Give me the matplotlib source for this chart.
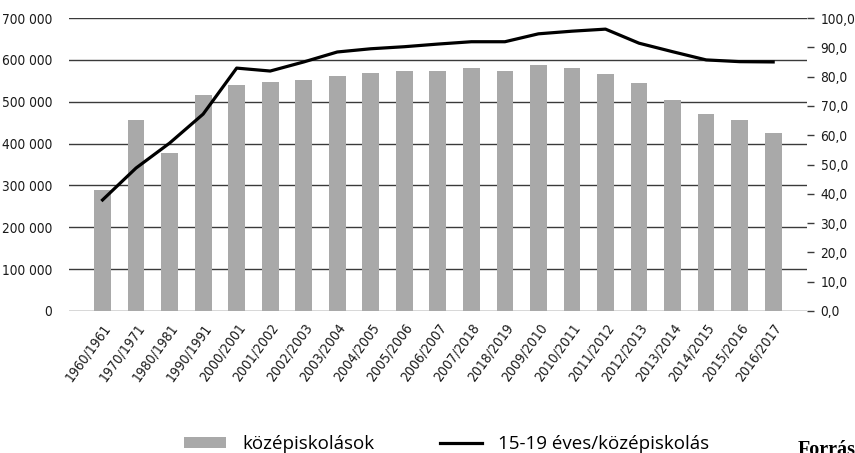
import matplotlib
matplotlib.use("Agg")
import matplotlib.pyplot as plt
from matplotlib.ticker import FuncFormatter, MultipleLocator
from matplotlib import font_manager
import numpy as np

categories = ["1960/1961", "1970/1971", "1980/1981", "1990/1991", "2000/2001",
              "2001/2002", "2002/2003", "2003/2004", "2004/2005", "2005/2006",
              "2006/2007", "2007/2018", "2018/2019", "2009/2010", "2010/2011",
              "2011/2012", "2012/2013", "2013/2014", "2014/2015", "2015/2016",
              "2016/2017"]
students = [289000, 456000, 377000, 516000, 540000, 547000, 552000, 561000,
            569000, 573000, 573000, 580000, 573000, 588000, 580000, 566000,
            545000, 504000, 471000, 456000, 425000]
ratio = [37.9, 48.8, 57.3, 67.2, 82.9, 81.9, 85.0, 88.4, 89.5, 90.2, 91.1,
         91.9, 91.9, 94.6, 95.5, 96.2, 91.4, 88.5, 85.7, 85.1, 85.0]

# find a condensed sans font if one is installed
cond_path = None
cands = [f for f in font_manager.fontManager.ttflist
         if ('Condensed' in f.fname or 'Narrow' in f.fname)
         and 'Bold' not in f.fname and 'Oblique' not in f.fname and 'Italic' not in f.fname]
pref = ['DejaVuSansCondensed.ttf', 'LiberationSansNarrow-Regular.ttf']
for p in pref:
    for f in cands:
        if f.fname.endswith(p):
            cond_path = f.fname
            break
    if cond_path:
        break
if cond_path is None and cands:
    cond_path = cands[0].fname

def tick_fp(size):
    if cond_path:
        return font_manager.FontProperties(fname=cond_path, size=size)
    return font_manager.FontProperties(family=['Lato', 'DejaVu Sans'], size=size - 1)

fig = plt.figure(figsize=(8.55, 4.53), dpi=100)
ax = fig.add_axes([69/855, 1-311/453, (806.7-69)/855, (311-18)/453])
ax2 = ax.twinx()

x = np.arange(len(categories))
ax.bar(x, students, width=0.5, color='#a9a9a9', zorder=2, label='középiskolások')
ax.set_ylim(0, 700000)
ax.set_xlim(-1, len(categories))
ax.yaxis.set_major_locator(MultipleLocator(100000))
ax.yaxis.set_major_formatter(FuncFormatter(lambda v, p: f"{int(v):,}".replace(",", " ")))
ax.grid(axis='y', color='#3a3a3a', linewidth=1.0, zorder=0)
ax.set_axisbelow(True)
for s in ax.spines.values():
    s.set_visible(False)
for s in ax2.spines.values():
    s.set_visible(False)
ax.tick_params(axis='y', length=0, pad=12)
ax.set_xticks(x)
ax.set_xticklabels(categories, rotation=54, ha='right', rotation_mode='anchor')
ax.tick_params(axis='x', length=0, pad=7)

ln, = ax2.plot(x, ratio, color='black', linewidth=2.3, label='15-19 éves/középiskolás', zorder=5)
ax2.set_ylim(0, 100)
ax2.yaxis.set_major_locator(MultipleLocator(10))
ax2.yaxis.set_major_formatter(FuncFormatter(lambda v, p: f"{v:.1f}".replace(".", ",")))
ax2.tick_params(axis='y', length=5, width=1, color='#3a3a3a', pad=5)
ax2.set_xlim(-1, len(categories))

for lbl in ax.get_yticklabels() + ax2.get_yticklabels():
    lbl.set_fontproperties(tick_fp(9.8))
    lbl.set_color('#1a1a1a')
for lbl in ax.get_xticklabels():
    lbl.set_fontproperties(tick_fp(10))
    lbl.set_color('#1a1a1a')

h1, l1 = ax.get_legend_handles_labels()
fig.legend(h1 + [ln], l1 + [ln.get_label()], loc='lower left',
           bbox_to_anchor=(167/855, -0.038), ncol=2, frameon=False,
           prop={'family': ['Open Sans', 'DejaVu Sans'], 'size': 13.5},
           handlelength=2.25, handleheight=0.55, handletextpad=0.85, columnspacing=3.5)

fig.text(798/855, -0.016, "Forrás", family=['Liberation Serif', 'DejaVu Serif'],
         fontweight='bold', fontsize=14.5, ha='left', va='bottom')

fig.savefig("out.png", dpi=100)
